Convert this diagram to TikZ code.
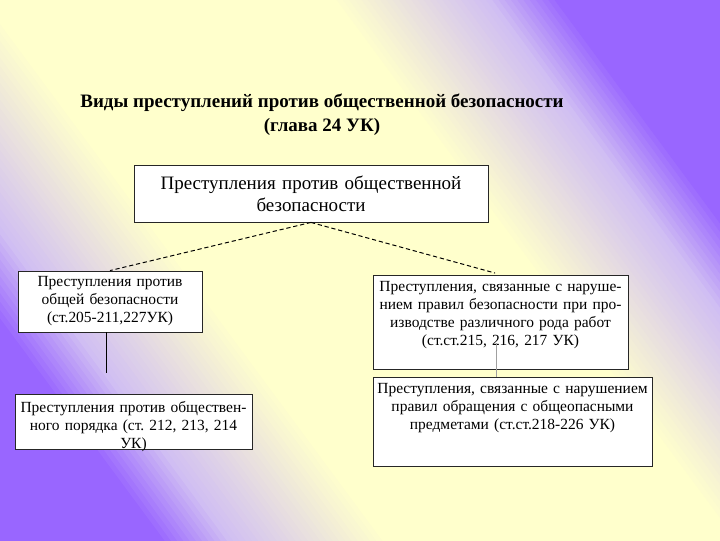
\documentclass[tikz,border=0pt]{standalone}
\usepackage{fontspec}
\setmainfont{Liberation Serif}
\usepackage{tikz}
\usetikzlibrary{positioning,calc}
\definecolor{bgpurple}{RGB}{153,102,255}
\definecolor{bglavender}{RGB}{208,190,243}
\definecolor{bgyellow}{RGB}{255,255,204}
\definecolor{stubgray}{RGB}{160,160,160}
\frenchspacing

\begin{document}
\begin{tikzpicture}[x=0.025cm,y=-0.025cm,
  box/.style={draw=black!85,fill=white,line width=0.6pt,align=center,inner sep=3pt,
    font=\fontsize{11}{12.8}\selectfont},
  dashline/.style={dashed,dash pattern=on 3pt off 2pt,line width=0.7pt},
  stubline/.style={line width=0.7pt}]
  % background: purple - yellow - purple across the diagonal
  \begin{scope}
    \clip (0,0) rectangle (720,540);
    \foreach \p in {-470,-465,...,470}{
      \pgfmathsetmacro\cone{100*max(0,min(1,(abs(\p)-140)/125))}
      \pgfmathsetmacro\ctwo{100*max(0,min(1,(abs(\p)-265)/55))}
      \fill[bgpurple!\ctwo!bglavender!\cone!bgyellow]
        ({360+(\p-3)*0.804-416.5},{270-(\p-3)*0.595-562.8}) --
        ({360+(\p+3)*0.804-416.5},{270-(\p+3)*0.595-562.8}) --
        ({360+(\p+3)*0.804+416.5},{270-(\p+3)*0.595+562.8}) --
        ({360+(\p-3)*0.804+416.5},{270-(\p-3)*0.595+562.8}) -- cycle;
    }
  \end{scope}
  \node[align=center,font=\fontsize{13.5}{17}\selectfont\bfseries] (title) at (322,115)
    {Виды преступлений против общественной безопасности\\(глава 24 УК)};
  \node[box,text width=8.64cm,minimum height=1.425cm,font=\fontsize{13.5}{15.6}\selectfont] (top) at (311,193.5)
    {Преступления против общественной\\безопасности};
  \node[box,text width=4.39cm,minimum height=1.525cm] (lb1) at (110,301.5)
    {Преступления против\\общей безопасности\\(ст.205-211,227УК)};
  \node[box,text width=5.71cm,text height=9.8pt,text depth=23.3pt] (lb2) at (133.5,421.5)
    {Преступления против обществен-\\ного порядка (ст. 212, 213, 214\\УК)};
  \node[box,text width=6.16cm,text height=9pt,text depth=51.9pt] (rb1) at (500.5,322)
    {Преступления, связанные с наруше-\\нием правил безопасности при про-\\изводстве различного рода работ\\(ст.ст.215, 216, 217 УК)};
  \node[box,text width=6.76cm,text height=9pt,text depth=48.3pt] (rb2) at (512.5,421.5)
    {Преступления, связанные с нарушением\\правил обращения с общеопасными\\предметами (ст.ст.218-226 УК)};
  \coordinate (lstub) at (106,373);
  \coordinate (rstub) at (496,343);
  \draw[dashline] (top.south)--(lb1.north);
  \draw[dashline,shorten >=4pt] (top.south)--(rb1.north);
  \draw[stubline] (lstub |- lb1.south)--(lstub);
  \draw[stubgray,line width=0.5pt] (rstub)--(rstub |- rb2.north);
\end{tikzpicture}
\end{document}
